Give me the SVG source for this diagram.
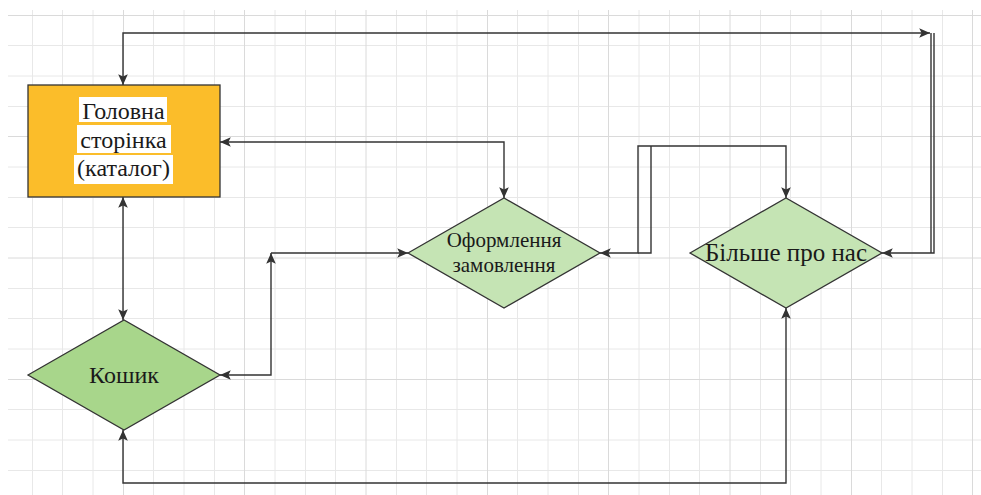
<svg xmlns="http://www.w3.org/2000/svg" width="981" height="495" viewBox="0 0 981 495">
  <style>
    .grid-minor { stroke: #e8e8e8; stroke-width: 1; fill: none; }
    .grid-major { stroke: #dadada; stroke-width: 1; fill: none; }
    .node-shape { stroke: #333333; stroke-width: 1.3; }
    .page { fill: #fbbd2a; }
    .step { fill: #c5e4b4; }
    .cart { fill: #a8d68b; }
    .label { font-family: "Liberation Serif", "Times New Roman", serif; fill: #1a1a1a; text-anchor: middle; }
    .label-bg { fill: #ffffff; }
    .edge { fill: none; stroke: #333333; stroke-width: 1.4; }
  </style>
  <defs>
    <marker id="arrow" markerUnits="userSpaceOnUse" markerWidth="12" markerHeight="12" viewBox="0 0 10 10" refX="9" refY="5" orient="auto-start-reverse">
      <path d="M0,1 L9,5 L0,9 L2,5 Z" fill="#333333"/>
    </marker>
  </defs>

  <rect width="981" height="495" fill="#ffffff"/>

  <!-- background grid -->
  <g id="grid">
    <path class="grid-minor" d="M32.5 10V495 M62.5 10V495 M93 10V495 M153.5 10V495 M184 10V495 M214.5 10V495 M275 10V495 M305.5 10V495 M335.5 10V495 M396.5 10V495 M426.5 10V495 M457 10V495 M517.5 10V495 M548 10V495 M578.5 10V495 M639 10V495 M669.5 10V495 M699.5 10V495 M760.5 10V495 M790.5 10V495 M821 10V495 M881.5 10V495 M912 10V495 M942.5 10V495
      M8 45.5H981 M8 76H981 M8 106.5H981 M8 167H981 M8 197.5H981 M8 227.5H981 M8 288.5H981 M8 318.5H981 M8 349H981 M8 409.5H981 M8 440H981 M8 470.5H981"/>
    <path class="grid-major" d="M123.5 10V495 M244.5 10V495 M366 10V495 M487.5 10V495 M608.5 10V495 M730 10V495 M851.5 10V495 M972.5 10V495
      M8 15.5H981 M8 136.5H981 M8 258H981 M8 379.5H981"/>
  </g>

  <!-- connectors -->
  <g id="connectors">
    <!-- Головна сторінка <-> Більше про нас (top loop) -->
    <path class="edge" d="M123 85 V33 H930" marker-start="url(#arrow)" marker-end="url(#arrow)"/>
    <path class="edge" d="M931 33 V253"/>
    <path class="edge" d="M934 33 V253 H882" marker-end="url(#arrow)"/>
    <!-- Головна сторінка <-> Оформлення замовлення -->
    <path class="edge" d="M220 142 H504 V198" marker-start="url(#arrow)" marker-end="url(#arrow)"/>
    <!-- Головна сторінка <-> Кошик -->
    <path class="edge" d="M123 197 V320" marker-start="url(#arrow)" marker-end="url(#arrow)"/>
    <!-- Кошик <-> Оформлення замовлення -->
    <path class="edge" d="M220 375 H271 V253" marker-start="url(#arrow)" marker-end="url(#arrow)"/>
    <path class="edge" d="M271 253 H408" marker-end="url(#arrow)"/>
    <!-- Оформлення замовлення <-> Більше про нас -->
    <path class="edge" d="M786 198 V146 H638 V253 H600" marker-start="url(#arrow)" marker-end="url(#arrow)"/>
    <path class="edge" d="M638 253 H651 V146"/>
    <!-- Кошик <-> Більше про нас (bottom loop) -->
    <path class="edge" d="M123 430 V483 H786 V308" marker-start="url(#arrow)" marker-end="url(#arrow)"/>
  </g>

  <!-- nodes -->
  <g id="node-home">
    <rect class="node-shape page" x="28" y="85" width="192" height="112"/>
    <rect class="label-bg" x="79" y="97" width="88" height="25"/>
    <rect class="label-bg" x="77" y="125" width="94" height="28"/>
    <rect class="label-bg" x="74" y="155" width="99" height="29"/>
    <text class="label" font-size="24" x="123.5" y="119">Головна</text>
    <text class="label" font-size="24" x="123.5" y="147.5">сторінка</text>
    <text class="label" font-size="24" x="123.5" y="176">(каталог)</text>
  </g>

  <g id="node-cart">
    <polygon class="node-shape cart" points="28,375 124,320 220,375 124,430"/>
    <text class="label" font-size="24" x="124" y="383">Кошик</text>
  </g>

  <g id="node-checkout">
    <polygon class="node-shape step" points="408,253 504,198 600,253 504,308"/>
    <text class="label" font-size="21" x="504" y="247">Оформлення</text>
    <text class="label" font-size="21" x="504" y="272">замовлення</text>
  </g>

  <g id="node-about">
    <polygon class="node-shape step" points="690,253 786,198 882,253 786,308"/>
    <text class="label" font-size="25" x="786" y="261">Більше про нас</text>
  </g>
</svg>
